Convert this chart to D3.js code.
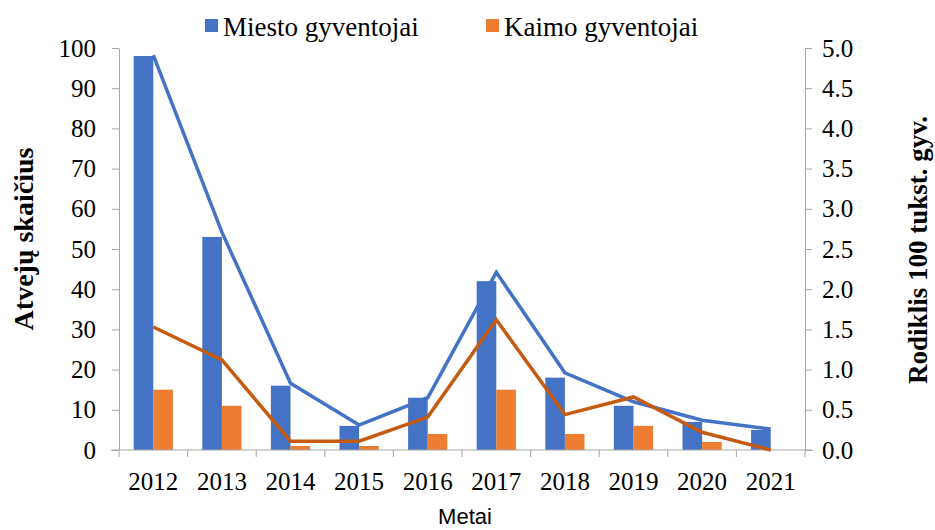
<!DOCTYPE html>
<html>
<head>
<meta charset="utf-8">
<script src="https://cdn.jsdelivr.net/npm/d3@7"></script>
<style>
  body { margin: 0; background: #fff; }
  .axis path, .axis line { stroke: #a6a6a6; }
  .axis text { font-family: "Liberation Serif", serif; font-size: 25px; fill: #000; }
</style>
</head>
<body>
<div id="container"></div>
<script>
var width = 935;
var height = 530;

// data
var years = ["2012", "2013", "2014", "2015", "2016", "2017", "2018", "2019", "2020", "2021"];
var miestoCount = [98, 53, 16, 6, 13, 42, 18, 11, 7, 5];
var kaimoCount = [15, 11, 1, 1, 4, 15, 4, 6, 2, 0];
var miestoRate = [4.91, 2.71, 0.83, 0.31, 0.65, 2.21, 0.96, 0.6, 0.37, 0.26];
var kaimoRate = [1.53, 1.12, 0.11, 0.11, 0.41, 1.62, 0.44, 0.66, 0.22, 0.0];
var leftTicks = [0, 10, 20, 30, 40, 50, 60, 70, 80, 90, 100];
var rightTicks = [0, 0.5, 1, 1.5, 2, 2.5, 3, 3.5, 4, 4.5, 5];

var blue = "#4472c4", orange = "#ed7d31", darkOrange = "#c55a11";

var margin = {left: 119, right: 130, top: 48, bottom: 80};
var x0 = margin.left, x1 = width - margin.right;
var yTop = margin.top, yBot = height - margin.bottom;

var svg = d3.select("#container")
  .append("svg")
  .attr("width", width)
  .attr("height", height);

var x = d3.scaleBand()
  .domain(years)
  .range([x0, x1]);

var xs = d3.scaleBand()
  .domain(["m", "k"])
  .range([0, x.bandwidth()])
  .paddingOuter(0.75);

var yL = d3.scaleLinear().domain([0, 100]).range([yBot, yTop]);
var yR = d3.scaleLinear().domain([0, 5]).range([yBot, yTop]);

// bars
var g = svg.append("g");
g.selectAll("rect.m")
  .data(years)
  .enter().append("rect")
  .attr("x", function(d) { return x(d) + xs("m"); })
  .attr("width", xs.bandwidth())
  .attr("y", function(d, i) { return yL(miestoCount[i]); })
  .attr("height", function(d, i) { return yBot - yL(miestoCount[i]); })
  .attr("fill", blue);

g.selectAll("rect.k")
  .data(years)
  .enter().append("rect")
  .attr("x", function(d) { return x(d) + xs("k"); })
  .attr("width", xs.bandwidth())
  .attr("y", function(d, i) { return yL(kaimoCount[i]); })
  .attr("height", function(d, i) { return yBot - yL(kaimoCount[i]); })
  .attr("fill", orange);

// axes
svg.append("g")
  .attr("class", "axis")
  .attr("transform", "translate(" + x0 + ",0)")
  .call(d3.axisLeft(yL).tickValues(leftTicks).tickSize(7).tickPadding(16).tickSizeOuter(0));

svg.append("g")
  .attr("class", "axis")
  .attr("transform", "translate(" + x1 + ",0)")
  .call(d3.axisRight(yR).tickValues(rightTicks).tickFormat(d3.format(".1f")).tickSize(7).tickPadding(10).tickSizeOuter(0));

var xAxis = svg.append("g")
  .attr("class", "axis")
  .attr("transform", "translate(0," + yBot + ")")
  .call(d3.axisBottom(x).tickSize(0).tickPadding(22));
xAxis.select(".domain").remove();

// x axis line and the ticks between categories
svg.append("line")
  .attr("x1", x0 - 8).attr("x2", x1 + 8)
  .attr("y1", yBot).attr("y2", yBot)
  .attr("stroke", "#a6a6a6");
svg.append("g").selectAll("line")
  .data(years.concat(["end"]))
  .enter().append("line")
  .attr("x1", function(d, i) { return x0 + i * x.step(); })
  .attr("x2", function(d, i) { return x0 + i * x.step(); })
  .attr("y1", yBot).attr("y2", yBot + 7)
  .attr("stroke", "#a6a6a6");

// lines on the right axis
var line = d3.line()
  .x(function(d, i) { return x(years[i]) + x.bandwidth() / 2; })
  .y(function(d) { return yR(d); });

svg.append("path")
  .datum(miestoRate)
  .attr("d", line)
  .attr("fill", "none")
  .attr("stroke", blue)
  .attr("stroke-width", 3.5);

svg.append("path")
  .datum(kaimoRate)
  .attr("d", line)
  .attr("fill", "none")
  .attr("stroke", darkOrange)
  .attr("stroke-width", 3.5);

// axis titles
svg.append("text")
  .attr("transform", "translate(33,239) rotate(-90)")
  .attr("text-anchor", "middle")
  .style("font-family", "Liberation Serif, serif")
  .style("font-weight", "bold")
  .style("font-size", "28px")
  .text("Atvejų skaičius");

svg.append("text")
  .attr("transform", "translate(927,250) rotate(-90)")
  .attr("text-anchor", "middle")
  .style("font-family", "Liberation Serif, serif")
  .style("font-weight", "bold")
  .style("font-size", "27px")
  .text("Rodiklis  100 tukst. gyv.");

svg.append("text")
  .attr("x", 465)
  .attr("y", 524)
  .attr("text-anchor", "middle")
  .style("font-family", "Liberation Sans, sans-serif")
  .style("font-size", "22px")
  .text("Metai");

// legend
var legend = [["Miesto gyventojai", blue, 205], ["Kaimo gyventojai", orange, 486]];
var lg = svg.append("g").selectAll("g")
  .data(legend)
  .enter().append("g")
  .attr("transform", function(d) { return "translate(" + d[2] + ",0)"; });
lg.append("rect")
  .attr("x", 0).attr("y", 19)
  .attr("width", 13).attr("height", 13)
  .attr("fill", function(d) { return d[1]; });
lg.append("text")
  .attr("x", 18).attr("y", 36)
  .style("font-family", "Liberation Serif, serif")
  .style("font-size", "27px")
  .text(function(d) { return d[0]; });
</script>
</body>
</html>
